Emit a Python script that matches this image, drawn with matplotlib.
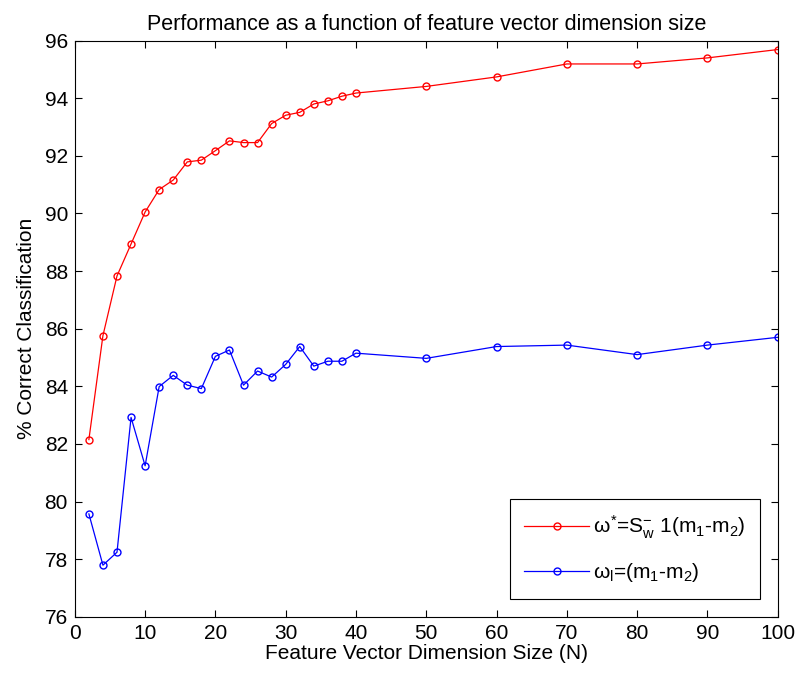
import matplotlib.pyplot as plt

plt.rcParams['font.family'] = ['Liberation Sans', 'DejaVu Sans']
plt.rcParams['mathtext.fontset'] = 'custom'
plt.rcParams['mathtext.rm'] = 'Liberation Sans'
plt.rcParams['mathtext.it'] = 'Liberation Sans'

# Feature vector dimension sizes
dims = [2, 4, 6, 8, 10, 12, 14, 16, 18, 20, 22, 24, 26, 28, 30, 32, 34, 36, 38, 40,
        50, 60, 70, 80, 90, 100]

# omega* = Sw^-1 (m1 - m2)
fisher = [82.15, 85.76, 87.83, 88.94, 90.05, 90.83, 91.16, 91.79, 91.85, 92.18,
          92.52, 92.46, 92.46, 93.12, 93.41, 93.51, 93.80, 93.91, 94.07, 94.18,
          94.41, 94.74, 95.19, 95.19, 95.40, 95.69]

# omega_l = (m1 - m2)
simple = [79.57, 77.79, 78.24, 82.92, 81.24, 83.99, 84.38, 84.04, 83.92, 85.04,
          85.26, 84.04, 84.53, 84.32, 84.76, 85.38, 84.70, 84.87, 84.87, 85.15,
          84.97, 85.38, 85.43, 85.10, 85.43, 85.70]

fig = plt.figure(figsize=(7.96, 6.77), dpi=100)
ax = fig.add_axes([0.094, 0.089, 0.883, 0.851])

ax.plot(dims, fisher, color='red', marker='o', markersize=5, markerfacecolor='none',
        linewidth=0.9, label=r'$\omega^{*}$=S$_{w}^{-}$ 1(m$_1$-m$_2$)')
ax.plot(dims, simple, color='blue', marker='o', markersize=5, markerfacecolor='none',
        linewidth=0.9, label=r'$\omega_{l}$=(m$_1$-m$_2$)')

ax.set_xlim(0, 100)
ax.set_ylim(76, 96)
ax.set_xticks(range(0, 101, 10))
ax.set_yticks(range(76, 97, 2))
ax.tick_params(direction='in', top=True, right=True, labelsize=15, length=5, pad=5)

ax.set_title('Performance as a function of feature vector dimension size', fontsize=15.5,
             pad=8)
ax.set_xlabel('Feature Vector Dimension Size (N)', fontsize=15, labelpad=1)
ax.set_ylabel('% Correct Classification', fontsize=15, labelpad=6)

leg = ax.legend(loc='lower right', fontsize=15, fancybox=False, framealpha=1,
                edgecolor='black', borderaxespad=0.85, handlelength=3.1,
                handletextpad=0.2, labelspacing=1.0, borderpad=0.7)
leg.get_frame().set_linewidth(0.8)

fig.savefig('out.png', dpi=100)
